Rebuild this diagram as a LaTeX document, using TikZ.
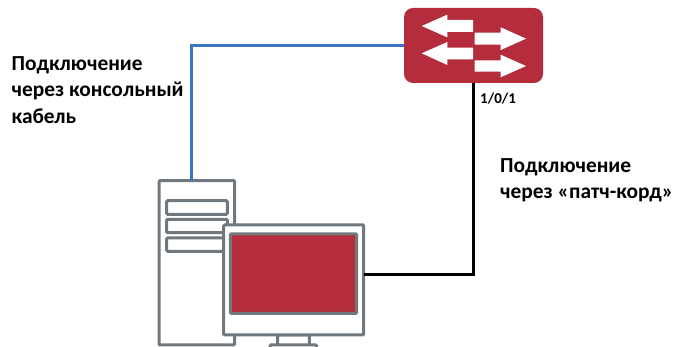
\documentclass[tikz,border=0pt]{standalone}
\usepackage{fontspec}
\setmainfont{Carlito}
\definecolor{cred}{RGB}{181,44,60}
\definecolor{cgray}{RGB}{112,120,126}
\definecolor{cblue}{RGB}{58,118,200}
\tikzset{x=1pt,y=-1pt,
 boxg/.style={draw=cgray,line width=3pt,rounded corners=1pt,fill=white,inner sep=0pt,outer sep=0pt,anchor=north west},
 lbl/.style={font=\bfseries\fontsize{21.4}{26.4}\selectfont,align=left,anchor=north west,inner sep=0pt,text=black},
 lnk/.style={line width=3pt},
 arrw/.style={fill=white,draw=none}}
\begin{document}
\begin{tikzpicture}
\useasboundingbox (0,0) rectangle (673,347);
\begin{scope}
\clip (0,0) rectangle (673,347);
\node[anchor=north west,fill=cred,rounded corners=9pt,minimum width=139pt,minimum height=75pt,inner sep=0pt,outer sep=0pt] (sw) at (404,8) {};
\node[boxg,minimum width=75.6pt,minimum height=164.3pt] (tower) at (159,180.7) {};
\node[boxg,minimum width=60.6pt,minimum height=13.6pt] (bay1) at (166.7,200.7) {};
\node[boxg,minimum width=60.6pt,minimum height=13.4pt] (bay2) at (166.7,219.3) {};
\node[boxg,minimum width=60.6pt,minimum height=13.3pt] (bay3) at (166.7,238) {};
\node[boxg,minimum width=31.6pt,minimum height=12pt] (stand) at (277.7,335) {};
\node[boxg,minimum width=46.7pt,minimum height=12pt] (base) at (270,345) {};
\node[boxg,minimum width=140pt,minimum height=110pt] (mon) at (223.7,225) {};
\node[boxg,fill=cred,minimum width=126.4pt,minimum height=79.3pt] (scr) at (230.3,234) {};
\coordinate (c1) at (191.5,45.5);
\coordinate (c2) at (473,275);
\draw[lnk,cblue] (tower.north -| c1) -- (c1) -- (c1 -| sw.west);
\draw[lnk,black] (c2 |- sw.south) -- (c2) -- (c2 -| mon.east);
\fill[arrw] (421.7,26) -- (447.3,14.7) -- (447.3,20) -- (473,20) -- (473,32) -- (447.3,32) -- (447.3,37.3) -- cycle;
\fill[arrw] (421.7,53.3) -- (447.3,42) -- (447.3,47.7) -- (473,47.7) -- (473,59.3) -- (447.3,59.3) -- (447.3,65) -- cycle;
\fill[arrw] (526,38.7) -- (500.7,27.3) -- (500.7,32.7) -- (474.7,32.7) -- (474.7,44.7) -- (500.7,44.7) -- (500.7,50) -- cycle;
\fill[arrw] (526,66) -- (500.7,54.7) -- (500.7,60.3) -- (474.7,60.3) -- (474.7,71.7) -- (500.7,71.7) -- (500.7,77.3) -- cycle;
\end{scope}
\node[lbl,font=\bfseries\fontsize{15}{18}\selectfont] (port) at (480,92.5) {1/0/1};
\node[lbl] (t1) at (11.5,56.5) {Подключение\\через консольный\\кабель};
\node[lbl] (t2) at (500,158) {Подключение\\через «патч-корд»};
\end{tikzpicture}
\end{document}
